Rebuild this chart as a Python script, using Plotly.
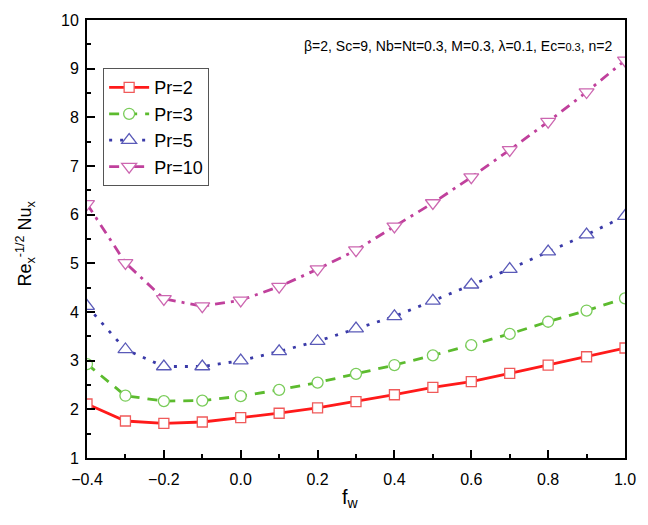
import plotly.graph_objects as go

fw = [-0.4, -0.3, -0.2, -0.1, 0.0, 0.1, 0.2, 0.3, 0.4, 0.5, 0.6, 0.7, 0.8, 0.9, 1.0]
nu_pr2 = [2.11, 1.76, 1.71, 1.74, 1.83, 1.92, 2.03, 2.16, 2.30, 2.45, 2.57, 2.74, 2.91, 3.08, 3.26]
nu_pr3 = [2.93, 2.28, 2.17, 2.18, 2.27, 2.40, 2.55, 2.73, 2.91, 3.11, 3.32, 3.55, 3.80, 4.03, 4.28]
nu_pr5 = [4.12, 3.23, 2.88, 2.88, 3.00, 3.19, 3.40, 3.66, 3.91, 4.23, 4.56, 4.88, 5.24, 5.59, 5.97]
nu_pr10 = [6.22, 5.01, 4.27, 4.12, 4.24, 4.52, 4.88, 5.27, 5.76, 6.24, 6.77, 7.33, 7.91, 8.52, 9.17]

names = ["Pr=2", "Pr=3", "Pr=5", "Pr=10"]
series = [nu_pr2, nu_pr3, nu_pr5, nu_pr10]
colors = ["#ff1a1a", "#5cbb2e", "#3a3aa8", "#c0409c"]
mcolors = ["#f05a5a", "#7acc5a", "#5a5ab8", "#cc66b0"]
dashes = ["solid", "10px,8px", "3px,8px", "10px,6px,3px,6px"]
symbols = ["square", "circle", "triangle-up", "triangle-down"]
msizes = [10, 11, 13, 13]

fig = go.Figure()
for name, ys, c, mc, d, s, ms in zip(names, series, colors, mcolors, dashes, symbols, msizes):
    fig.add_trace(go.Scatter(
        x=fw, y=ys, name=name, mode="lines+markers",
        line=dict(color=c, width=2.8, dash=d),
        marker=dict(symbol=s, size=ms, color="white", line=dict(color=mc, width=1.3)),
    ))

axis_common = dict(
    showline=True, linecolor="black", linewidth=2, mirror=True,
    ticks="inside", ticklen=8, tickwidth=2, tickcolor="black",
    showgrid=False, zeroline=False,
    tickfont=dict(family="Liberation Sans, Arial", size=16, color="black"),
)

fig.update_xaxes(range=[-0.4, 1.0], dtick=0.2, tick0=-0.4, tickformat=".1f",
                 ticklabelstandoff=6,
                 minor=dict(ticks="inside", ticklen=4, tickwidth=2, dtick=0.1, tickcolor="black"),
                 **axis_common)
fig.update_yaxes(range=[1, 10], dtick=1, tick0=1,
                 ticklabelstandoff=3,
                 minor=dict(ticks="inside", ticklen=4, tickwidth=2, dtick=0.5, tickcolor="black"),
                 **axis_common)

fig.update_layout(
    width=648, height=525,
    margin=dict(l=87, r=12, t=16, b=67),
    paper_bgcolor="white", plot_bgcolor="white",
    font=dict(family="Liberation Sans, Arial", color="black"),
    showlegend=True,
    legend=dict(x=0.03, y=0.89, xanchor="left", yanchor="top",
                bgcolor="white", bordercolor="#555555", borderwidth=1,
                font=dict(size=18), tracegroupgap=0, itemwidth=40),
    annotations=[
        dict(text="β=2, Sc=9, Nb=Nt=0.3, M=0.3, λ=0.1, Ec=<span style='font-size:11px'>0.3</span>, n=2",
             xref="paper", yref="paper", x=0.98, y=0.94, xanchor="right", yanchor="middle",
             showarrow=False, font=dict(size=14)),
        dict(text="Re<sub>x</sub><sup>-1/2</sup> Nu<sub>x</sub>", textangle=-90,
             xref="paper", yref="paper", x=-0.115, y=0.49, xanchor="center", yanchor="middle",
             showarrow=False, font=dict(size=18)),
        dict(text="f<sub>w</sub>",
             xref="paper", yref="paper", x=0.49, y=-0.06, xanchor="center", yanchor="top",
             showarrow=False, font=dict(size=20)),
    ],
)

fig.write_html("out.html")
